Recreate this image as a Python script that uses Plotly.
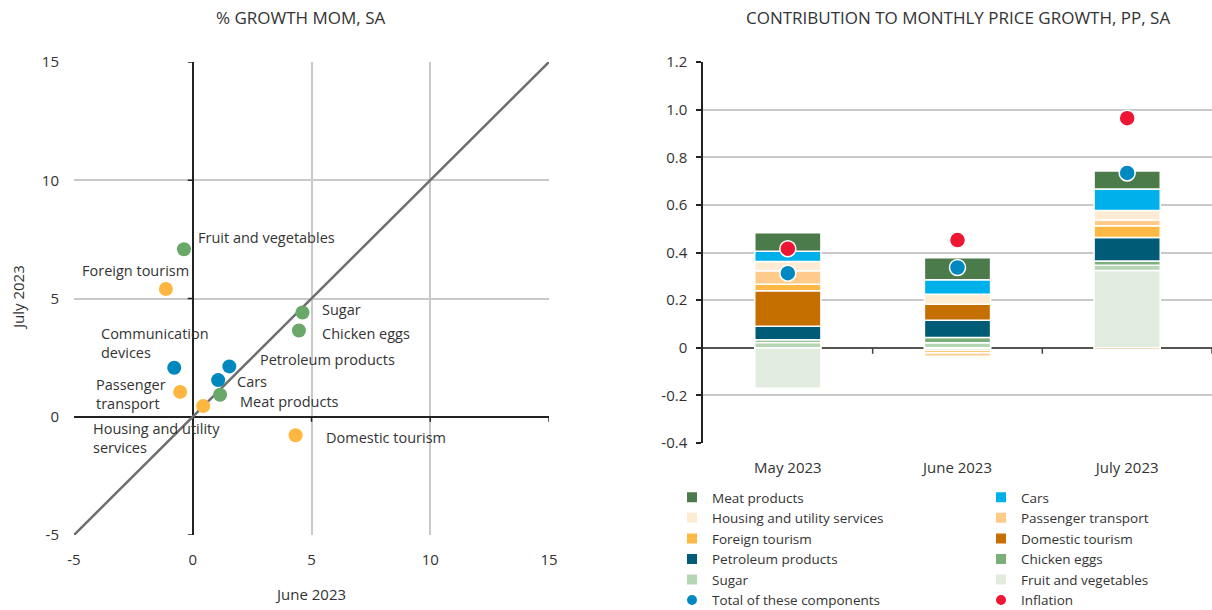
import plotly.graph_objects as go

# ---- Left panel: month-on-month growth, June vs July 2023 (%, SA) ----
item_names = [
    "Fruit and vegetables", "Foreign tourism", "Sugar", "Chicken eggs",
    "Communication devices", "Petroleum products", "Cars", "Meat products",
    "Passenger transport", "Housing and utility services", "Domestic tourism",
]
growth_june = [-0.37, -1.13, 4.62, 4.47, -0.78, 1.54, 1.07, 1.15, -0.53, 0.44, 4.33]
growth_july = [7.08, 5.40, 4.41, 3.65, 2.07, 2.13, 1.55, 0.93, 1.05, 0.45, -0.78]
item_group = ["food", "services", "food", "food", "goods", "goods", "goods",
              "food", "services", "services", "services"]
item_labels = [
    "Fruit and vegetables", "Foreign tourism", "Sugar", "Chicken eggs",
    "Communication<br>devices", "Petroleum products", "Cars", "Meat products",
    "Passenger<br>transport", "Housing and utility<br>services", "Domestic tourism",
]
scatter_ticks = [-5, 0, 5, 10, 15]
scatter_ticktext = ["-5", "0", "5", "10", "15"]
diagonal = [-5, 15]

# ---- Right panel: contribution to monthly price growth (pp, SA) ----
months = ["May 2023", "June 2023", "July 2023"]
contrib = {
    "Fruit and vegetables":         [-0.170, -0.012, 0.324],
    "Sugar":                        [0.022, 0.021, 0.022],
    "Chicken eggs":                 [0.012, 0.022, 0.018],
    "Petroleum products":           [0.056, 0.073, 0.099],
    "Domestic tourism":             [0.149, 0.067, -0.007],
    "Foreign tourism":              [0.028, -0.010, 0.049],
    "Passenger transport":          [0.056, -0.014, 0.024],
    "Housing and utility services": [0.039, 0.042, 0.040],
    "Cars":                         [0.043, 0.061, 0.091],
    "Meat products":                [0.078, 0.092, 0.075],
}
total_components = [0.313, 0.337, 0.734]
inflation = [0.416, 0.452, 0.964]
bar_ticks = [-0.4, -0.2, 0, 0.2, 0.4, 0.6, 0.8, 1.0, 1.2]
bar_ticktext = ["-0.4", "-0.2", "0", "0.2", "0.4", "0.6", "0.8", "1.0", "1.2"]

# ---- Styling ----
FONT = "Open Sans"
TXT = "#333333"
GRID = "#c9c9c9"
group_colors = {"food": "#69a869", "services": "#fdb740", "goods": "#0087be"}
bar_colors = {
    "Meat products": "#4c7b4b",
    "Cars": "#00b0ea",
    "Housing and utility services": "#fdebd3",
    "Passenger transport": "#fecb8a",
    "Foreign tourism": "#fdb945",
    "Domestic tourism": "#c46f00",
    "Petroleum products": "#005b76",
    "Chicken eggs": "#7daf7b",
    "Sugar": "#b6d6b3",
    "Fruit and vegetables": "#e1ecdf",
}
# legend columns (left / right) and order within each
legend_left = ["Meat products", "Housing and utility services", "Foreign tourism",
               "Petroleum products", "Sugar"]
legend_right = ["Cars", "Passenger transport", "Domestic tourism",
                "Chicken eggs", "Fruit and vegetables"]

# label offsets (pixels) for the scatter annotations: (xanchor, xshift, yshift)
label_offsets = {
    "Fruit and vegetables": ("left", 12, 12),
    "Foreign tourism": ("right", 25, 19),
    "Sugar": ("left", 18, 3),
    "Chicken eggs": ("left", 21, -3),
    "Communication devices": ("left", -75, 25),
    "Petroleum products": ("left", 29, 7),
    "Cars": ("left", 17, -1),
    "Meat products": ("left", 18, -7),
    "Passenger transport": ("left", -86, -2),
    "Housing and utility services": ("left", -112, -32),
    "Domestic tourism": ("left", 28, -2),
}

W, H = 1212, 610
fig = go.Figure()

# 45-degree reference line
fig.add_trace(go.Scatter(
    x=diagonal, y=diagonal, mode="lines",
    line=dict(color="#6e6e6e", width=2.5),
    showlegend=False, hoverinfo="skip", xaxis="x", yaxis="y",
))
fig.add_trace(go.Scatter(
    x=growth_june, y=growth_july, mode="markers",
    marker=dict(size=14, color=[group_colors[g] for g in item_group]),
    text=item_names, showlegend=False, xaxis="x", yaxis="y",
))

for name, values in contrib.items():
    col = "legend" if name in legend_left else "legend2"
    rank = (legend_left.index(name) if name in legend_left
            else legend_right.index(name))
    fig.add_trace(go.Bar(
        x=months, y=values, name=name, width=0.39,
        marker=dict(color=bar_colors[name], line=dict(color="white", width=1.5)),
        xaxis="x2", yaxis="y2", legend=col, legendrank=rank + 1,
    ))

fig.add_trace(go.Scatter(
    x=months, y=total_components, mode="markers", name="Total of these components",
    marker=dict(size=16, color="#0089c0", line=dict(color="white", width=1.5)),
    xaxis="x2", yaxis="y2", legend="legend", legendrank=10,
))
fig.add_trace(go.Scatter(
    x=months, y=inflation, mode="markers", name="Inflation",
    marker=dict(size=16, color="#ee1633", line=dict(color="white", width=1.5)),
    xaxis="x2", yaxis="y2", legend="legend2", legendrank=10,
))

# scatter labels
annotations = []
for name, label, xv, yv in zip(item_names, item_labels, growth_june, growth_july):
    anchor, dx, dy = label_offsets[name]
    annotations.append(dict(
        x=xv, y=yv, xref="x", yref="y", text=label, showarrow=False,
        xanchor=anchor, yanchor="middle", xshift=dx, yshift=dy, align="left",
        font=dict(size=14.5, color=TXT, family=FONT),
    ))

# titles and axis titles
annotations += [
    dict(x=300 / W, y=1 - 18 / H, xref="paper", yref="paper",
         xanchor="center", yanchor="middle",
         text="% GROWTH MOM, SA", showarrow=False,
         font=dict(size=17, color=TXT, family=FONT)),
    dict(x=958 / W, y=1 - 18 / H, xref="paper", yref="paper",
         xanchor="center", yanchor="middle",
         text="CONTRIBUTION TO MONTHLY PRICE GROWTH, PP, SA", showarrow=False,
         font=dict(size=17, color=TXT, family=FONT)),
    dict(x=310 / W, y=1 - 594 / H, xref="paper", yref="paper",
         xanchor="center", yanchor="middle",
         text="June 2023", showarrow=False,
         font=dict(size=15, color=TXT, family=FONT)),
    dict(x=18 / W, y=1 - 298 / H, xref="paper", yref="paper",
         xanchor="center", yanchor="middle",
         text="July 2023", showarrow=False, textangle=-90,
         font=dict(size=15, color=TXT, family=FONT)),
]

# small tick marks on the zero axes of the scatter panel and on the bar panel's zero line
shapes = []
for v in [-5, 5, 10, 15]:
    shapes.append(dict(type="line", xref="x", yref="y", xsizemode="pixel", xanchor=0,
                       x0=-5, x1=0, y0=v, y1=v, line=dict(color="#222222", width=1.5)))
for v in [5, 10, 15]:
    shapes.append(dict(type="line", xref="x", yref="y", ysizemode="pixel", yanchor=0,
                       y0=-5, y1=0, x0=v, x1=v, line=dict(color="#222222", width=1.5)))
for v in [0.5, 1.5, 2.5]:
    shapes.append(dict(type="line", xref="x2", yref="y2", ysizemode="pixel", yanchor=0,
                       y0=-6, y1=0, x0=v, x1=v, line=dict(color="#444444", width=1.5)))

left_dom = [74 / W, 549 / W]
right_dom = [703 / W, 1.0]
y_top = 1 - 62 / H

legend_font = dict(size=13.5, color=TXT, family=FONT)

fig.update_layout(
    width=W, height=H,
    margin=dict(l=0, r=0, t=0, b=0, autoexpand=False),
    paper_bgcolor="white", plot_bgcolor="white",
    font=dict(family=FONT, size=15, color=TXT),
    barmode="relative",
    showlegend=True,
    annotations=annotations,
    shapes=shapes,
    xaxis=dict(
        domain=left_dom, range=[-5, 15], tickvals=scatter_ticks, ticktext=scatter_ticktext,
        showgrid=True, gridcolor=GRID, gridwidth=1.5,
        zeroline=True, zerolinecolor="#222222", zerolinewidth=1.5,
        showline=False, ticks="", ticklabelstandoff=14, anchor="y",
        automargin=False,
    ),
    yaxis=dict(
        domain=[1 - 535 / H, y_top], range=[-5, 15], tickvals=scatter_ticks,
        ticktext=scatter_ticktext,
        showgrid=True, gridcolor=GRID, gridwidth=1.5,
        zeroline=True, zerolinecolor="#222222", zerolinewidth=1.5,
        showline=False, ticks="", ticklabelstandoff=14, anchor="x",
        automargin=False,
    ),
    xaxis2=dict(
        domain=right_dom, range=[-0.5, 2.5], showgrid=False, zeroline=False,
        showline=False, ticks="", ticklabelstandoff=14, anchor="y2",
        automargin=False,
    ),
    yaxis2=dict(
        domain=[1 - 443 / H, y_top], range=[-0.4, 1.2], tickvals=bar_ticks,
        ticktext=bar_ticktext,
        showgrid=True, gridcolor=GRID, gridwidth=1.5,
        zeroline=True, zerolinecolor="#555555", zerolinewidth=2,
        showline=True, linecolor="#222222", linewidth=1.5,
        ticks="outside", ticklen=5, tickcolor="#222222", tickwidth=1.5,
        ticklabelstandoff=6, anchor="x2", automargin=False,
    ),
    legend=dict(
        x=672 / W, y=1 - 482 / H, xanchor="left", yanchor="top",
        orientation="v", bgcolor="rgba(0,0,0,0)", tracegroupgap=0,
        font=legend_font, itemwidth=30, itemsizing="constant",
    ),
    legend2=dict(
        x=981 / W, y=1 - 482 / H, xanchor="left", yanchor="top",
        orientation="v", bgcolor="rgba(0,0,0,0)", tracegroupgap=0,
        font=legend_font, itemwidth=30, itemsizing="constant",
    ),
)

fig.write_html("out.html")
